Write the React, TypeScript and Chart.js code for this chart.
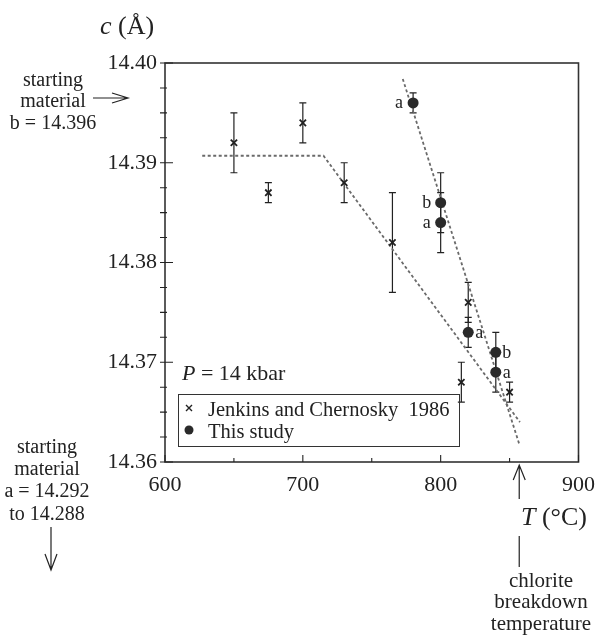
import React, { useEffect, useRef } from 'react';
import { Chart, registerables } from 'chart.js';

Chart.register(...registerables);

// ---- data ----
const jenkinsT = [650, 675, 700, 730, 765, 815, 820, 850];
const jenkinsC = [14.392, 14.387, 14.394, 14.388, 14.382, 14.368, 14.376, 14.367];
const jenkinsErr = [0.003, 0.001, 0.002, 0.002, 0.005, 0.002, 0.002, 0.001];

const studyT = [780, 800, 800, 820, 840, 840];
const studyC = [14.396, 14.386, 14.384, 14.373, 14.371, 14.369];
const studyErr = [0.001, 0.003, 0.003, 0.0015, 0.002, 0.002];
const studyLabels = ['a', 'b', 'a', 'a', 'b', 'a'];
const studyLabelSide = ['left', 'left', 'left', 'right', 'right', 'right'];

const jenkinsFitT = [627, 715, 857.5];
const jenkinsFitC = [14.3907, 14.3907, 14.364];
const studyFitT = [772.5, 857];
const studyFitC = [14.3984, 14.3618];

const xMin = 600;
const xMax = 900;
const xStep = 50;
const xMajor = 100;
const yMin = 14.36;
const yMax = 14.4;
const yStep = 0.0025;

const legendLabels = ['Jenkins and Chernosky  1986', 'This study'];
const pressureLabel = ' = 14 kbar';
const startingB = ['starting', 'material', 'b = 14.396'];
const startingA = ['starting', 'material', 'a = 14.292', 'to 14.288'];
const breakdownText = ['chlorite', 'breakdown', 'temperature'];
const breakdownT = 857;

const FONT = '"Liberation Serif", "Times New Roman", serif';
const INK = '#222';

const isMajorY = (v: number) => Math.abs(v * 100 - Math.round(v * 100)) < 1e-6;

const decor = {
  id: 'decor',
  beforeDatasetsDraw(chart: any) {
    const { ctx, scales } = chart;
    const x = scales.x;
    const y = scales.y;
    ctx.save();
    ctx.strokeStyle = INK;
    ctx.lineWidth = 1.2;
    const bar = (T: number, c: number, e: number) => {
      const px = x.getPixelForValue(T);
      const top = y.getPixelForValue(c + e);
      const bot = y.getPixelForValue(c - e);
      ctx.beginPath();
      ctx.moveTo(px, top);
      ctx.lineTo(px, bot);
      ctx.moveTo(px - 3.5, top);
      ctx.lineTo(px + 3.5, top);
      ctx.moveTo(px - 3.5, bot);
      ctx.lineTo(px + 3.5, bot);
      ctx.stroke();
    };
    jenkinsT.forEach((T, i) => bar(T, jenkinsC[i], jenkinsErr[i]));
    studyT.forEach((T, i) => bar(T, studyC[i], studyErr[i]));
    ctx.restore();
  },
  afterDraw(chart: any) {
    const { ctx, chartArea: a, scales } = chart;
    const x = scales.x;
    const y = scales.y;
    ctx.save();

    // frame
    ctx.strokeStyle = '#333';
    ctx.lineWidth = 1.6;
    ctx.strokeRect(a.left, a.top, a.right - a.left, a.bottom - a.top);

    // ticks
    ctx.lineWidth = 1.1;
    ctx.strokeStyle = INK;
    ctx.beginPath();
    x.ticks.forEach((t: any) => {
      const px = x.getPixelForValue(t.value);
      const major = Math.abs(t.value % xMajor) < 1e-6;
      ctx.moveTo(px, a.bottom);
      ctx.lineTo(px, a.bottom - (major ? 7 : 4));
    });
    y.ticks.forEach((t: any) => {
      const py = y.getPixelForValue(t.value);
      const major = isMajorY(t.value);
      ctx.moveTo(a.left - 5, py);
      ctx.lineTo(a.left + (major ? 8 : 2), py);
    });
    ctx.stroke();

    // point labels a / b
    ctx.fillStyle = INK;
    ctx.font = `18px ${FONT}`;
    ctx.textAlign = 'center';
    ctx.textBaseline = 'alphabetic';
    studyT.forEach((T, i) => {
      const px = x.getPixelForValue(T);
      const py = y.getPixelForValue(studyC[i]);
      const dx = studyLabelSide[i] === 'left' ? -14 : 11;
      ctx.fillText(studyLabels[i], px + dx, py + 5.5);
    });

    // P = 14 kbar
    ctx.textAlign = 'left';
    ctx.font = `italic 22px ${FONT}`;
    ctx.fillText('P', 182, 380);
    const pw = ctx.measureText('P').width;
    ctx.font = `22px ${FONT}`;
    ctx.fillText(pressureLabel, 182 + pw, 380);

    // legend
    ctx.lineWidth = 1;
    ctx.strokeStyle = '#333';
    ctx.strokeRect(178.5, 394.5, 281, 52);
    ctx.font = `20.5px ${FONT}`;
    ctx.fillText(legendLabels[0], 208, 416);
    ctx.fillText(legendLabels[1], 208, 438);
    ctx.lineWidth = 1.4;
    ctx.strokeStyle = INK;
    ctx.beginPath();
    ctx.moveTo(186, 405);
    ctx.lineTo(192, 411);
    ctx.moveTo(192, 405);
    ctx.lineTo(186, 411);
    ctx.stroke();
    ctx.fillStyle = '#2a2a2a';
    ctx.beginPath();
    ctx.arc(189, 430, 4.5, 0, Math.PI * 2);
    ctx.fill();

    // y axis title c (Å)
    ctx.fillStyle = INK;
    ctx.font = `italic 26px ${FONT}`;
    ctx.fillText('c', 100, 34);
    const cw = ctx.measureText('c').width;
    ctx.font = `26px ${FONT}`;
    ctx.fillText(' (Å)', 100 + cw, 34);

    // x axis title T (°C)
    ctx.font = `italic 26px ${FONT}`;
    ctx.fillText('T', 521, 525);
    const tw = ctx.measureText('T').width;
    ctx.font = `26px ${FONT}`;
    ctx.fillText(' (°C)', 521 + tw, 525);

    // starting material b
    ctx.textAlign = 'center';
    ctx.font = `20px ${FONT}`;
    const bBase = [86, 107, 129];
    startingB.forEach((s, i) => ctx.fillText(s, 53, bBase[i]));
    // starting material a
    const aBase = [453, 475, 497, 520];
    startingA.forEach((s, i) => ctx.fillText(s, 47, aBase[i]));
    // chlorite breakdown
    const cBase = [587, 608, 630];
    ctx.font = `21px ${FONT}`;
    breakdownText.forEach((s, i) => ctx.fillText(s, 541, cBase[i]));

    // arrows
    ctx.strokeStyle = INK;
    ctx.lineWidth = 1.2;
    ctx.beginPath();
    // right arrow to starting material b
    ctx.moveTo(93, 98);
    ctx.lineTo(128, 98);
    ctx.moveTo(112, 93);
    ctx.lineTo(128, 98);
    ctx.lineTo(112, 103);
    // down arrow starting material a
    ctx.moveTo(51, 527);
    ctx.lineTo(51, 570);
    ctx.moveTo(45, 554);
    ctx.lineTo(51, 570);
    ctx.lineTo(57, 554);
    // up arrow at chlorite breakdown temperature
    const bx = x.getPixelForValue(breakdownT);
    ctx.moveTo(bx, a.bottom + 3);
    ctx.lineTo(bx, 499);
    ctx.moveTo(bx - 6, a.bottom + 18);
    ctx.lineTo(bx, a.bottom + 3);
    ctx.lineTo(bx + 6, a.bottom + 18);
    ctx.moveTo(bx, 536);
    ctx.lineTo(bx, 567);
    ctx.stroke();

    ctx.restore();
  },
};

export default function App() {
  const ref = useRef<HTMLCanvasElement | null>(null);

  useEffect(() => {
    if (!ref.current) return;
    const chart = new Chart(ref.current, {
      type: 'scatter',
      data: {
        datasets: [
          {
            label: legendLabels[0],
            data: jenkinsT.map((T, i) => ({ x: T, y: jenkinsC[i] })),
            pointStyle: 'crossRot',
            pointRadius: 4.5,
            borderWidth: 1.8,
            borderColor: INK,
            backgroundColor: INK,
            showLine: false,
          },
          {
            label: legendLabels[1],
            data: studyT.map((T, i) => ({ x: T, y: studyC[i] })),
            pointStyle: 'circle',
            pointRadius: 5.5,
            borderWidth: 0,
            borderColor: '#2a2a2a',
            backgroundColor: '#2a2a2a',
            showLine: false,
          },
          {
            label: 'Jenkins fit',
            data: jenkinsFitT.map((T, i) => ({ x: T, y: jenkinsFitC[i] })),
            showLine: true,
            borderColor: '#6a6a6a',
            borderWidth: 1.8,
            borderDash: [3, 2.5],
            pointRadius: 0,
            fill: false,
          },
          {
            label: 'Study fit',
            data: studyFitT.map((T, i) => ({ x: T, y: studyFitC[i] })),
            showLine: true,
            borderColor: '#6a6a6a',
            borderWidth: 1.8,
            borderDash: [3, 2.5],
            pointRadius: 0,
            fill: false,
          },
        ],
      },
      options: {
        responsive: false,
        animation: false,
        layout: { padding: { top: 63, right: 15, bottom: 0, left: 0 } },
        plugins: {
          legend: { display: false },
          tooltip: { enabled: false },
          title: { display: false },
        },
        scales: {
          x: {
            type: 'linear',
            min: xMin,
            max: xMax,
            border: { display: false },
            grid: { display: false, drawTicks: false },
            ticks: {
              stepSize: xStep,
              autoSkip: false,
              maxRotation: 0,
              padding: 10,
              color: INK,
              font: { family: FONT, size: 22 },
              callback: (v: any) => (Math.abs(Number(v) % xMajor) < 1e-6 ? String(v) : ''),
            },
            afterFit: (s: any) => {
              s.height = 173;
            },
          },
          y: {
            type: 'linear',
            min: yMin,
            max: yMax,
            border: { display: false },
            grid: { display: false, drawTicks: false },
            ticks: {
              stepSize: yStep,
              autoSkip: false,
              padding: 8,
              color: INK,
              font: { family: FONT, size: 22 },
              callback: (v: any) => (isMajorY(Number(v)) ? Number(v).toFixed(2) : ''),
            },
            afterFit: (s: any) => {
              s.width = 165;
            },
          },
        },
      } as any,
      plugins: [decor],
    });
    return () => chart.destroy();
  }, []);

  return (
    <div style={{ position: 'absolute', left: 0, top: 0, width: 605, height: 635, background: '#fff' }}>
      <canvas ref={ref} width={605} height={635} style={{ display: 'block' }} />
    </div>
  );
}
